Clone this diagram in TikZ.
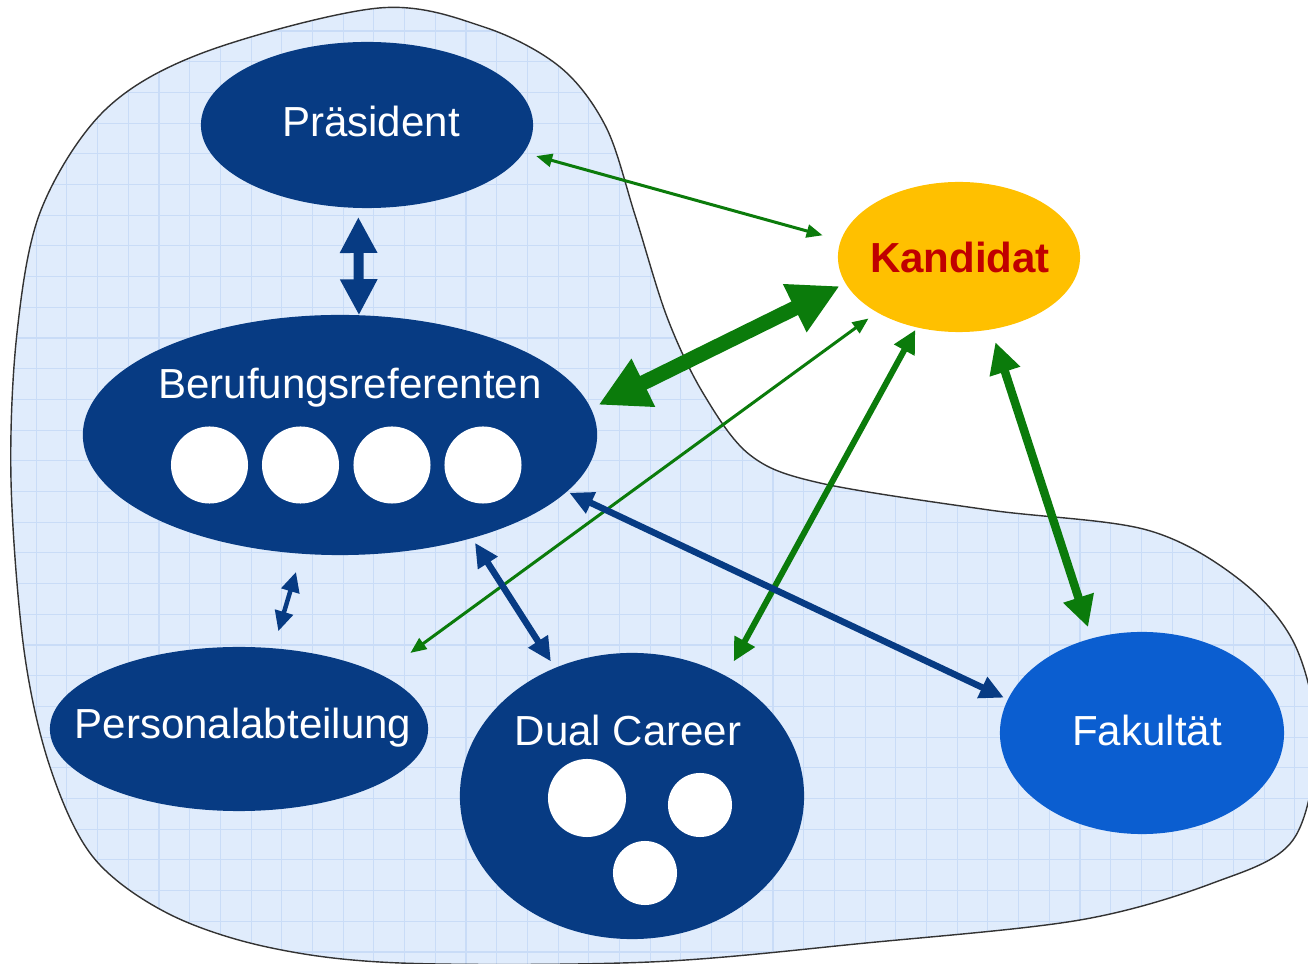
\documentclass[tikz,border=0pt]{standalone}
\usepackage{fontspec}
\setmainfont{Liberation Sans}
\usetikzlibrary{shapes.geometric,arrows.meta}
\definecolor{dblue}{HTML}{073B83}
\definecolor{fblue}{HTML}{0B5ED0}
\definecolor{ggreen}{HTML}{0B7B0B}
\definecolor{kgold}{HTML}{FFC000}
\definecolor{kred}{HTML}{C00000}
\definecolor{bgfill}{HTML}{E0ECFC}
\definecolor{gridc}{HTML}{C9DCF7}
\tikzset{
  blob/.style={ellipse,inner sep=0pt,outer sep=0pt,draw=none},
  lbl/.style={text=white,font=\fontsize{11.95}{14}\selectfont,inner sep=0pt},
  dot/.style={circle,fill=white,inner sep=0pt,outer sep=0pt},
  gthin/.style={draw=ggreen,line width=0.03cm,{Triangle[length=0.16cm,width=0.13cm]}-{Triangle[length=0.16cm,width=0.13cm]}},
  gmid/.style={draw=ggreen,line width=0.06cm,{Triangle[length=0.23cm,width=0.22cm]}-{Triangle[length=0.23cm,width=0.22cm]}},
  gfat/.style={draw=ggreen,line width=0.085cm,{Triangle[length=0.31cm,width=0.30cm]}-{Triangle[length=0.31cm,width=0.30cm]}},
  gbig/.style={draw=ggreen,line width=0.15cm,{Triangle[length=0.50cm,width=0.50cm]}-{Triangle[length=0.50cm,width=0.50cm]}},
  bmid/.style={draw=dblue,line width=0.065cm,{Triangle[length=0.24cm,width=0.22cm]}-{Triangle[length=0.24cm,width=0.22cm]}},
  bsmall/.style={draw=dblue,line width=0.045cm,{Triangle[length=0.20cm,width=0.18cm]}-{Triangle[length=0.20cm,width=0.18cm]}},
  bbig/.style={draw=dblue,line width=0.10cm,{Triangle[length=0.36cm,width=0.35cm]}-{Triangle[length=0.36cm,width=0.35cm]}},
}
\begin{document}
\begin{tikzpicture}[x=0.01cm,y=-0.01cm]
\useasboundingbox (0,0) rectangle (1308,964);
% background region
\def\blobpath{plot[smooth cycle,tension=0.55] coordinates{(379,8) (484,27) (560,67) (606,127) (635,215) (667,317) (703,393) (750,455) (820,483) (989,510) (1147,530) (1240,580) (1295,645) (1316,740) (1293,840) (1213,883) (1080,920) (866,943) (650,962) (400,963) (267,947) (167,913) (93,857) (50,767) (24,650) (11,480) (17,333) (41,210) (105,110) (205,52)}}
\begin{scope}
\clip \blobpath;
\fill[bgfill] (0,0) rectangle (1320,980);
\foreach \i in {0,...,43} \draw[gridc,line width=0.3pt] ({5.5+30.7*\i},0) -- ({5.5+30.7*\i},980);
\foreach \i in {0,...,32} \draw[gridc,line width=0.3pt] (0,{0.3+30.7*\i}) -- (1320,{0.3+30.7*\i});
\end{scope}
\draw[black!80,line width=0.4pt] \blobpath;
% nodes
\node[blob,fill=dblue,minimum width=3.32cm,minimum height=1.66cm] (pres) at (367,125) {};
\node[blob,fill=dblue,minimum width=5.14cm,minimum height=2.40cm] (ber) at (340,435) {};
\node[blob,fill=dblue,minimum width=3.78cm,minimum height=1.64cm] (pers) at (239,729) {};
\node[blob,fill=dblue,minimum width=3.44cm,minimum height=2.86cm] (dual) at (632,796) {};
\node[blob,fill=fblue,minimum width=2.84cm,minimum height=2.02cm] (fak) at (1142,733) {};
\node[blob,fill=kgold,minimum width=2.42cm,minimum height=1.50cm] (kand) at (959,257) {};
\node[lbl] (presT) at (371,121) {Präsident};
\node[lbl] (berT) at (350,388) {Berufungsreferenten};
\node[lbl] (persT) at (243,728) {Personalabteilung};
\node[lbl] (dualT) at (628,730) {Dual Career};
\node[lbl] (fakT) at (1147,730) {Fakultät};
\node[lbl,text=kred,font=\fontsize{11.95}{14}\selectfont\bfseries] (kandT) at (960,257) {Kandidat};
\foreach \n/\x in {b1/209.5,b2/300.5,b3/392,b4/483}
  \node[dot,minimum size=0.77cm] (\n) at (\x,465) {};
\node[dot,minimum size=0.78cm] (d1) at (587,798) {};
\node[dot,minimum size=0.64cm] (d2) at (700,805) {};
\node[dot,minimum size=0.64cm] (d3) at (645,873) {};
% connectors
\draw[gthin,shorten <=0.13cm,shorten >=0.19cm] (pres.-10) -- (kand.172);
\draw[bbig,shorten <=0.09cm] (pres.-96) -- (ber.81);
\draw[gbig,shorten <=0.066cm,shorten >=0.085cm] (kand.-167.4) -- (ber.6.9);
\draw[gthin,shorten <=0.106cm,shorten >=0.368cm] (kand.-146.2) -- (pers.21.2);
\draw[gmid,shorten <=0.03cm,shorten >=0.166cm] (kand.-121.9) -- (dual.52.9);
\draw[gfat,shorten <=0.135cm,shorten >=0.118cm] (kand.-66.2) -- (fak.118.3);
\draw[bmid,shorten <=0.027cm,shorten >=0.044cm] (ber.-14.9) -- (fak.166.6);
\draw[bmid,shorten <=0.056cm,shorten >=0.077cm] (ber.-38.2) -- (dual.121.25);
\draw[bsmall,shorten <=0.19cm,shorten >=0.178cm] (ber.-108.4) -- (pers.67.9);
\end{tikzpicture}
\end{document}
